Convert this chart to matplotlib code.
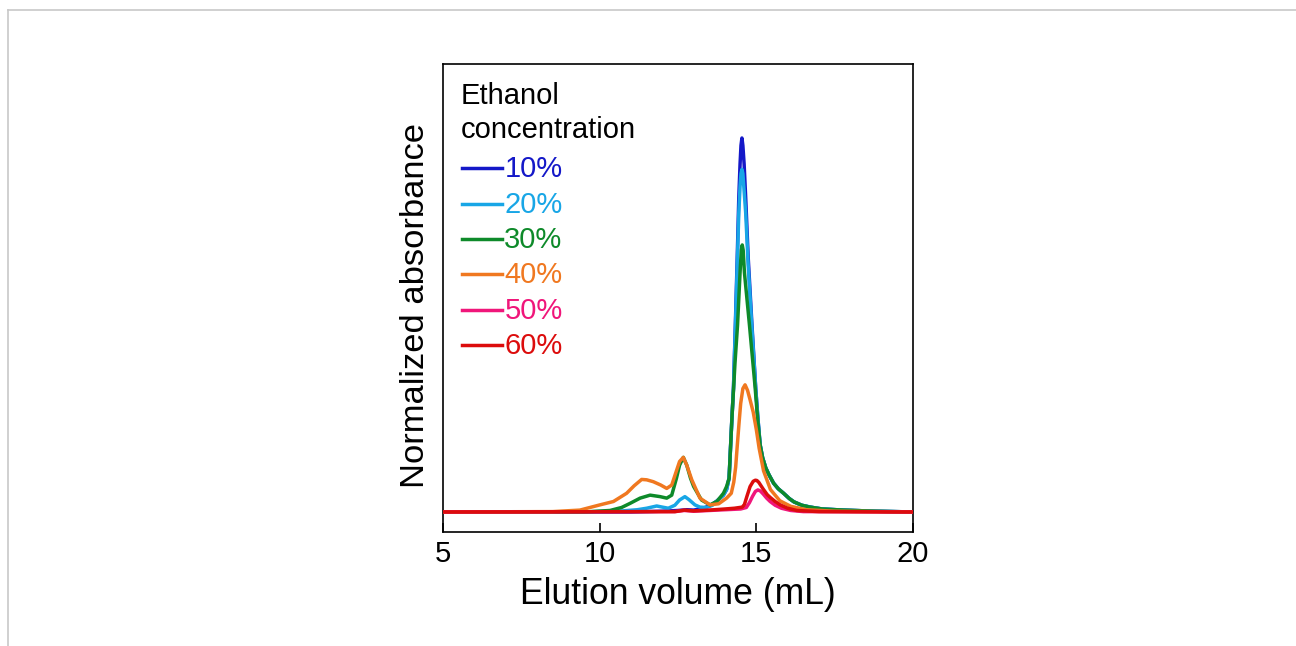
import matplotlib
matplotlib.use("Agg")
import matplotlib.pyplot as plt
from matplotlib.lines import Line2D

plt.rcParams['font.family'] = ['Liberation Sans', 'DejaVu Sans']

# Elution profiles (normalized absorbance vs elution volume, mL)
x_10 = [5.0, 9.0, 11.0, 12.0, 12.5, 12.78, 13.0, 13.3, 13.55, 13.75, 13.95, 14.05, 14.13,
        14.22, 14.27, 14.33, 14.39, 14.44, 14.48, 14.51, 14.54, 14.57, 14.61, 14.66, 14.74,
        14.86, 14.98, 15.05, 15.12, 15.2, 15.3, 15.4, 15.55, 15.7, 15.87, 16.05, 16.2,
        16.45, 16.72, 17.1, 17.78, 18.8, 20.0]
y_10 = [0.0, 0.0, 0.0, 0.002, 0.004, 0.006, 0.005, 0.01, 0.018, 0.03, 0.045, 0.06, 0.09,
        0.25, 0.33, 0.5, 0.68, 0.84, 0.93, 0.98, 1.0, 0.98, 0.93, 0.84, 0.68,
        0.5, 0.33, 0.25, 0.18, 0.145, 0.118, 0.1, 0.077, 0.062, 0.05, 0.036, 0.027,
        0.018, 0.013, 0.008, 0.005, 0.002, 0.0]

x_20 = [5.0, 9.5, 10.75, 11.2, 11.5, 11.82, 12.0, 12.19, 12.4, 12.55, 12.72, 12.85, 13.04,
        13.2, 13.41, 13.6, 13.75, 13.95, 14.05, 14.13, 14.22, 14.27, 14.33, 14.39, 14.44,
        14.48, 14.51, 14.54, 14.57, 14.6, 14.66, 14.74, 14.86, 14.98, 15.05, 15.12, 15.2,
        15.3, 15.4, 15.55, 15.7, 15.87, 16.05, 16.2, 16.45, 16.72, 17.1, 17.78, 18.8, 20.0]
y_20 = [0.0, 0.0, 0.003, 0.006, 0.01, 0.016, 0.013, 0.01, 0.018, 0.032, 0.041, 0.033, 0.019,
        0.013, 0.012, 0.018, 0.03, 0.045, 0.06, 0.09, 0.25, 0.33, 0.49, 0.66, 0.8,
        0.87, 0.905, 0.916, 0.905, 0.87, 0.8, 0.66, 0.49, 0.33, 0.25, 0.18, 0.145,
        0.118, 0.1, 0.077, 0.062, 0.05, 0.036, 0.027, 0.018, 0.013, 0.008, 0.005, 0.002, 0.0]

x_30 = [5.0, 9.5, 10.33, 10.7, 10.97, 11.29, 11.61, 11.93, 12.14, 12.3, 12.45, 12.55, 12.67,
        12.78, 12.9, 13.0, 13.25, 13.52, 13.74, 13.95, 14.05, 14.13, 14.22, 14.32, 14.4,
        14.48, 14.52, 14.55, 14.58, 14.62, 14.78, 14.96, 15.04, 15.12, 15.2, 15.3, 15.4,
        15.55, 15.7, 15.87, 16.05, 16.2, 16.45, 16.72, 17.1, 17.78, 18.8, 20.0]
y_30 = [0.0, 0.0, 0.004, 0.012, 0.023, 0.037, 0.045, 0.041, 0.037, 0.045, 0.09, 0.125, 0.146,
        0.125, 0.09, 0.068, 0.032, 0.019, 0.028, 0.05, 0.068, 0.09, 0.25, 0.4, 0.5,
        0.64, 0.7, 0.714, 0.7, 0.64, 0.5, 0.334, 0.25, 0.18, 0.145, 0.118, 0.1,
        0.077, 0.062, 0.05, 0.036, 0.027, 0.018, 0.013, 0.008, 0.005, 0.002, 0.0]

x_40 = [5.0, 8.5, 9.37, 10.01, 10.44, 10.86, 11.1, 11.34, 11.5, 11.71, 11.95, 12.14, 12.3,
        12.45, 12.55, 12.67, 12.78, 12.94, 13.2, 13.52, 13.8, 14.05, 14.2, 14.28, 14.34,
        14.39, 14.45, 14.5, 14.57, 14.64, 14.72, 14.8, 14.9, 15.0, 15.09, 15.23, 15.45,
        15.75, 16.1, 16.6, 17.5, 20.0]
y_40 = [0.0, 0.001, 0.005, 0.019, 0.028, 0.05, 0.07, 0.087, 0.086, 0.081, 0.072, 0.063, 0.072,
        0.11, 0.135, 0.146, 0.125, 0.086, 0.037, 0.019, 0.022, 0.037, 0.05, 0.08, 0.12,
        0.176, 0.24, 0.29, 0.33, 0.34, 0.325, 0.3, 0.267, 0.22, 0.17, 0.11, 0.06,
        0.03, 0.015, 0.006, 0.002, 0.0]

x_50 = [5.0, 12.4, 12.7, 13.0, 13.5, 14.0, 14.5, 14.68, 14.78, 14.88, 14.97, 15.05, 15.13,
        15.22, 15.33, 15.44, 15.6, 15.8, 16.1, 16.5, 20.0]
y_50 = [0.0, 0.001, 0.004, 0.002, 0.004, 0.006, 0.008, 0.012, 0.025, 0.042, 0.055, 0.059, 0.056,
        0.048, 0.037, 0.028, 0.018, 0.01, 0.004, 0.001, 0.0]

x_60 = [5.0, 12.4, 12.7, 13.0, 13.5, 14.0, 14.3, 14.55, 14.62, 14.7, 14.8, 14.9, 14.97, 15.02,
        15.08, 15.15, 15.22, 15.35, 15.44, 15.6, 15.76, 16.0, 16.29, 17.0, 20.0]
y_60 = [0.0, 0.001, 0.005, 0.003, 0.005, 0.008, 0.01, 0.013, 0.02, 0.042, 0.068, 0.082, 0.085, 0.084,
        0.079, 0.07, 0.061, 0.046, 0.039, 0.028, 0.019, 0.01, 0.004, 0.001, 0.0]

labels = ['10%', '20%', '30%', '40%', '50%', '60%']
colors = ['#1418c8', '#18a6e6', '#0e8a2a', '#f07820', '#f0167a', '#dc0c0c']
series = [(x_10, y_10), (x_20, y_20), (x_30, y_30), (x_40, y_40), (x_50, y_50), (x_60, y_60)]
draw_order = [0, 1, 3, 2, 4, 5]

xticks = [5, 10, 15, 20]

fig = plt.figure(figsize=(12.96, 6.46), dpi=100)
ax = fig.add_axes([0.3418, 0.1765, 0.3627, 0.7245])

for i in draw_order:
    xs, ys = series[i]
    ax.plot(xs, ys, color=colors[i], lw=2.5, solid_joinstyle='round',
            solid_capstyle='round', zorder=2 + i)

ax.set_xlim(5, 20)
ax.set_ylim(-0.0535, 1.198)
ax.set_xticks(xticks)
ax.set_xticklabels([str(t) for t in xticks])
ax.set_yticks([])
ax.tick_params(axis='x', direction='in', length=6.5, width=1.2, labelsize=21, pad=5.5)
for sp in ax.spines.values():
    sp.set_linewidth(1.2)

ax.set_xlabel('Elution volume (mL)', fontsize=25.6)
ax.xaxis.set_label_coords(0.5, -0.097)
ax.set_ylabel('Normalized absorbance', fontsize=24.8)
ax.yaxis.set_label_coords(-0.026, 0.483)

# Legend block drawn in axes coordinates
ax.text(0.038, 0.914, 'Ethanol', transform=ax.transAxes, fontsize=21,
        ha='left', va='baseline')
ax.text(0.038, 0.8427, 'concentration', transform=ax.transAxes, fontsize=21,
        ha='left', va='baseline')
entry_y = [0.7758, 0.6989, 0.6241, 0.5493, 0.4724, 0.3976]
for lab, col, yy in zip(labels, colors, entry_y):
    ax.add_line(Line2D([0.0398, 0.1249], [yy + 0.002, yy + 0.002], transform=ax.transAxes,
                       color=col, lw=2.5))
    ax.text(0.1305, yy, lab, transform=ax.transAxes, fontsize=21, color=col,
            ha='left', va='center')

# thin frame along the top and left edges of the canvas
fig.add_artist(Line2D([8 / 1296, 1.0], [1 - 10 / 646, 1 - 10 / 646],
                      transform=fig.transFigure, color='#c8c8c8', lw=1.2))
fig.add_artist(Line2D([8 / 1296, 8 / 1296], [0.0, 1 - 10 / 646],
                      transform=fig.transFigure, color='#c8c8c8', lw=1.2))

fig.savefig('out.png', dpi=100, facecolor='white')
